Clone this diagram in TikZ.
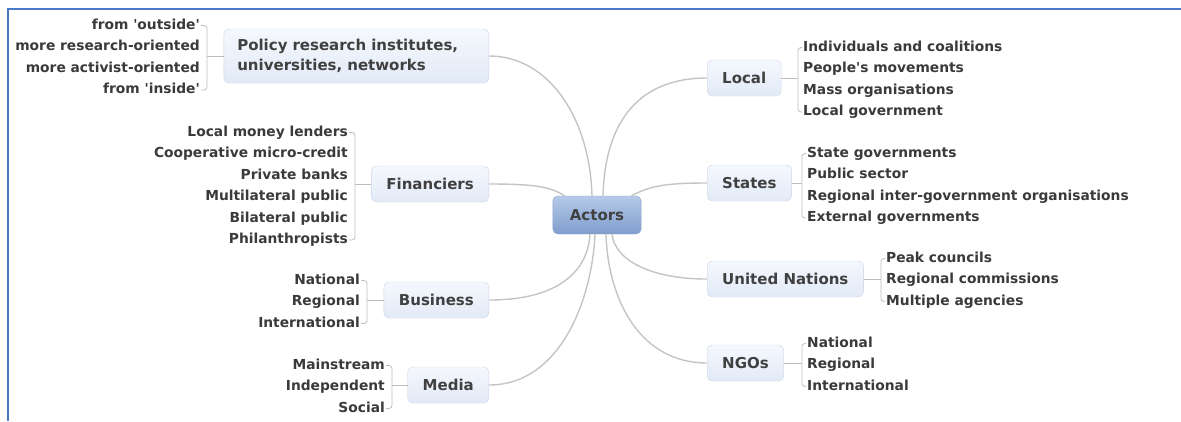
\documentclass[tikz,border=0pt]{standalone}
\usepackage{fontspec}
\setmainfont{DejaVu Sans}

\definecolor{framecol}{HTML}{4A78C8}
\definecolor{boxline}{HTML}{CAD5E6}
\definecolor{boxtop}{HTML}{F5F8FD}
\definecolor{boxbot}{HTML}{E2EAF7}
\definecolor{hubtop}{HTML}{B6C9E8}
\definecolor{hubbot}{HTML}{7F9DCD}
\definecolor{hubline}{HTML}{8BA5D0}
\definecolor{textgray}{HTML}{404040}
\definecolor{leafgray}{HTML}{3A3A3A}
\definecolor{linkgray}{HTML}{C4C4C4}
\definecolor{bracegray}{HTML}{BDBDBD}

\tikzset{
  topic/.style={draw=boxline, rounded corners=5pt, top color=boxtop, bottom color=boxbot,
    text=textgray, font=\fontsize{15}{18}\selectfont\bfseries, minimum height=36pt, inner xsep=15pt},
  leaf/.style={text=leafgray, font=\fontsize{13.8}{16}\selectfont\bfseries, inner sep=1pt,
    text height=10pt, text depth=3pt},
  link/.style={draw=linkgray, line width=1.4pt},
  brace/.style={draw=bracegray, line width=0.8pt, rounded corners=3pt},
}

\begin{document}
\begin{tikzpicture}[x=1pt, y=-1pt]
  \useasboundingbox (0,0) rectangle (1181,421);

  % frame
  \draw[framecol, line width=2pt] (8,421) -- (8,9) -- (1181,9);

  % centre
  \node[topic, draw=hubline, top color=hubtop, bottom color=hubbot, text=textgray,
        minimum height=38pt, inner xsep=17pt] (actors) at (597,215) {Actors};

  % left side
  \node[topic, anchor=east, align=left, minimum height=54pt, inner xsep=13.5pt, text width=238pt,
        font=\fontsize{15}{20}\selectfont\bfseries] (policy) at (489,56)
        {Policy research institutes,\\universities, networks};
  \node[topic, anchor=east] (fin) at (489,184) {Financiers};
  \node[topic, anchor=east] (bus) at (489,300) {Business};
  \node[topic, anchor=east] (media) at (489,385) {Media};

  % right side
  \node[topic, anchor=west] (local) at (707,78) {Local};
  \node[topic, anchor=west] (states) at (707,183) {States};
  \node[topic, anchor=west] (un) at (707,279) {United Nations};
  \node[topic, anchor=west] (ngo) at (707,363) {NGOs};

  % links to the centre
  \draw[link] (policy.east) .. controls (550,56) and (590,120) .. ([xshift=-5pt]actors.north);
  \draw[link] (fin.east) .. controls (530,184) and (550,186) .. ([xshift=12pt]actors.north west);
  \draw[link] (bus.east) .. controls (560,300) and (588,270) .. ([xshift=-7pt]actors.south);
  \draw[link] (media.east) .. controls (560,385) and (592,300) .. ([xshift=-2pt]actors.south);
  \draw[link] (local.west) .. controls (640,78) and (605,120) .. ([xshift=6pt]actors.north);
  \draw[link] (states.west) .. controls (665,183) and (650,186) .. ([xshift=-10pt]actors.north east);
  \draw[link] (un.west) .. controls (650,279) and (615,260) .. ([xshift=15pt]actors.south);
  \draw[link] (ngo.west) .. controls (640,363) and (608,300) .. ([xshift=9pt]actors.south);

  % leaves, left
  \foreach \t [count=\i] in {from \textquotesingle outside\textquotesingle, more research-oriented,
      more activist-oriented, from \textquotesingle inside\textquotesingle}
    \node[leaf, anchor=east] (pol\i) at (201, 4+21.5*\i) {\t};
  \foreach \t [count=\i] in {Local money lenders, Cooperative micro-credit, Private banks,
      Multilateral public, Bilateral public, Philanthropists}
    \node[leaf, anchor=east] (fin\i) at (349, 111+21.5*\i) {\t};
  \foreach \t [count=\i] in {National, Regional, International}
    \node[leaf, anchor=east] (bus\i) at (361, 259+21.5*\i) {\t};
  \foreach \t [count=\i] in {Mainstream, Independent, Social}
    \node[leaf, anchor=east] (med\i) at (386, 344+21.5*\i) {\t};

  % leaves, right
  \foreach \t [count=\i] in {Individuals and coalitions, People\textquotesingle s movements,
      Mass organisations, Local government}
    \node[leaf, anchor=west] (loc\i) at (802, 26+21.5*\i) {\t};
  \foreach \t [count=\i] in {State governments, Public sector,
      Regional inter-government organisations, External governments}
    \node[leaf, anchor=west] (sta\i) at (806, 132+21.5*\i) {\t};
  \foreach \t [count=\i] in {Peak councils, Regional commissions, Multiple agencies}
    \node[leaf, anchor=west] (un\i) at (885, 237+21.5*\i) {\t};
  \foreach \t [count=\i] in {National, Regional, International}
    \node[leaf, anchor=west] (ngo\i) at (806, 322+21.5*\i) {\t};

  % brackets
  \draw[brace] (pol1.east) -| ([xshift=6pt]pol4.east) -- (pol4.east);
  \draw[brace] (policy.west) -- ([xshift=6pt]pol1.east |- policy.west);
  \draw[brace] (fin1.east) -| ([xshift=6pt]fin6.east) -- (fin6.east);
  \draw[brace] (fin.west) -- ([xshift=6pt]fin1.east |- fin.west);
  \draw[brace] (bus1.east) -| ([xshift=6pt]bus3.east) -- (bus3.east);
  \draw[brace] (bus.west) -- ([xshift=6pt]bus1.east |- bus.west);
  \draw[brace] (med1.east) -| ([xshift=6pt]med3.east) -- (med3.east);
  \draw[brace] (media.west) -- ([xshift=6pt]med1.east |- media.west);

  \draw[brace] (loc1.west) -| ([xshift=-4pt]loc4.west) -- (loc4.west);
  \draw[brace] (local.east) -- ([xshift=-4pt]loc1.west |- local.east);
  \draw[brace] (sta1.west) -| ([xshift=-4pt]sta4.west) -- (sta4.west);
  \draw[brace] (states.east) -- ([xshift=-4pt]sta1.west |- states.east);
  \draw[brace] (un1.west) -| ([xshift=-4pt]un3.west) -- (un3.west);
  \draw[brace] (un.east) -- ([xshift=-4pt]un1.west |- un.east);
  \draw[brace] (ngo1.west) -| ([xshift=-4pt]ngo3.west) -- (ngo3.west);
  \draw[brace] (ngo.east) -- ([xshift=-4pt]ngo1.west |- ngo.east);
\end{tikzpicture}
\end{document}
